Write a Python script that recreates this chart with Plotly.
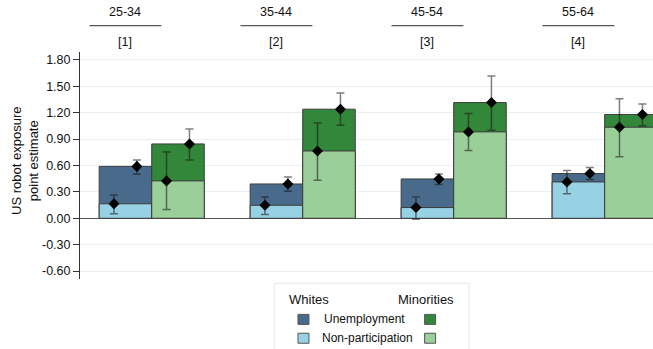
import plotly.graph_objects as go

# Age groups (column headers) and column numbers
age_groups = ["25-34", "35-44", "45-54", "55-64"]
column_ids = ["[1]", "[2]", "[3]", "[4]"]

# Point estimates and 95% confidence bounds
white_unemp = [0.59, 0.39, 0.447, 0.508]
white_unemp_lo = [0.50, 0.307, 0.383, 0.44]
white_unemp_hi = [0.663, 0.47, 0.503, 0.576]

white_nonpart = [0.165, 0.148, 0.122, 0.413]
white_nonpart_lo = [0.053, 0.042, -0.01, 0.28]
white_nonpart_hi = [0.265, 0.242, 0.242, 0.542]

min_unemp = [0.845, 1.24, 1.315, 1.18]
min_unemp_lo = [0.663, 1.057, 1.0, 1.053]
min_unemp_hi = [1.015, 1.424, 1.617, 1.30]

min_nonpart = [0.425, 0.765, 0.982, 1.035]
min_nonpart_lo = [0.099, 0.432, 0.77, 0.70]
min_nonpart_hi = [0.754, 1.083, 1.19, 1.36]

# Y-axis ticks
y_ticks = [-0.6, -0.3, 0.0, 0.3, 0.6, 0.9, 1.2, 1.5, 1.8]
y_tick_text = ["-0.60", "-0.30", "0.00", "0.30", "0.60", "0.90", "1.20", "1.50", "1.80"]

C_WU = "#486b8c"   # whites, unemployment
C_WN = "#97d1e4"   # whites, non-participation
C_MU = "#33873a"   # minorities, unemployment
C_MN = "#9bcf99"   # minorities, non-participation
EDGE = "#3c3c3c"
ERR = "rgba(20,20,20,0.55)"
FONT = "Liberation Sans, Arial, sans-serif"
FS = 12.5

BW = 0.348          # bar width (x units)
OFF = 0.076         # point offset inside a bar
idx = list(range(len(age_groups)))
x_white = [i - BW / 2 for i in idx]
x_min = [i + BW / 2 for i in idx]

fig = go.Figure()


def add_bar(xs, ys, color):
    fig.add_trace(go.Bar(
        x=xs, y=ys, width=BW, base=0,
        marker=dict(color=color, line=dict(color=EDGE, width=1)),
        hoverinfo="skip", showlegend=False,
    ))


add_bar(x_white, white_unemp, C_WU)
add_bar(x_white, white_nonpart, C_WN)
add_bar(x_min, min_unemp, C_MU)
add_bar(x_min, min_nonpart, C_MN)


def add_points(xs, est, lo, hi):
    fig.add_trace(go.Scatter(
        x=xs, y=est, mode="markers",
        marker=dict(symbol="diamond", size=8.5, color="black"),
        error_y=dict(
            type="data", symmetric=False,
            array=[h - e for h, e in zip(hi, est)],
            arrayminus=[e - l for e, l in zip(est, lo)],
            color=ERR, thickness=1.5, width=4,
        ),
        hoverinfo="skip", showlegend=False,
    ))


add_points([x - OFF for x in x_white], white_nonpart, white_nonpart_lo, white_nonpart_hi)
add_points([x + OFF for x in x_white], white_unemp, white_unemp_lo, white_unemp_hi)
add_points([x - OFF for x in x_min], min_nonpart, min_nonpart_lo, min_nonpart_hi)
add_points([x + OFF for x in x_min], min_unemp, min_unemp_lo, min_unemp_hi)

annotations = []
shapes = []


def label(x, y, text, xref="paper", size=FS, xanchor="center", angle=0):
    annotations.append(dict(x=x, y=y, xref=xref, yref="paper", text=text,
                            xanchor=xanchor, yanchor="middle", textangle=angle,
                            showarrow=False, font=dict(size=size, color="#111")))


# Column headers above each group
for xc, grp, cid in zip(x_white, age_groups, column_ids):
    label(xc, 1.175, grp, xref="x")
    label(xc, 1.045, cid, xref="x")
    shapes.append(dict(type="line", xref="x", yref="paper",
                       x0=xc - 0.238, x1=xc + 0.238, y0=1.116, y1=1.116,
                       line=dict(color="#555", width=1.2)))

# Y-axis title
label(-0.096, 0.52, "US robot exposure<br>point estimate", angle=-90, size=13)

# Legend block
shapes.append(dict(type="rect", xref="paper", yref="paper",
                   x0=0.339, x1=0.679, y0=-0.35, y1=-0.019,
                   line=dict(color="#e3e8ec", width=1), fillcolor="white", layer="below"))
label(0.362, -0.089, "Whites", xanchor="left", size=13)
label(0.656, -0.089, "Minorities", xanchor="right", size=13)
label(0.497, -0.178, "Unemployment", size=12)
label(0.501, -0.261, "Non-participation", size=12)
sw, sh = 11 / 573, 10 / 227
for cx, cy, col in [(0.39, -0.178, C_WU), (0.39, -0.261, C_WN),
                    (0.611, -0.178, C_MU), (0.611, -0.261, C_MN)]:
    shapes.append(dict(type="rect", xref="paper", yref="paper",
                       x0=cx - sw / 2, x1=cx + sw / 2, y0=cy - sh / 2, y1=cy + sh / 2,
                       line=dict(color="#555", width=1), fillcolor=col))

fig.update_layout(
    width=653, height=349,
    margin=dict(l=80, r=0, t=52, b=70),
    paper_bgcolor="white", plot_bgcolor="white",
    barmode="overlay",
    font=dict(family=FONT, size=FS, color="#111"),
    xaxis=dict(range=[-0.475, 3.32], visible=False, fixedrange=True),
    yaxis=dict(range=[-0.69, 1.89], tickvals=y_ticks, ticktext=y_tick_text,
               showgrid=True, gridcolor="#e9eff3", gridwidth=1,
               zeroline=True, zerolinecolor="#555", zerolinewidth=1,
               showline=True, linecolor="#333", linewidth=1,
               ticks="outside", ticklen=6, tickcolor="#333",
               tickfont=dict(size=FS, color="#111")),
    annotations=annotations,
    shapes=shapes,
)

fig.write_html("out.html")
